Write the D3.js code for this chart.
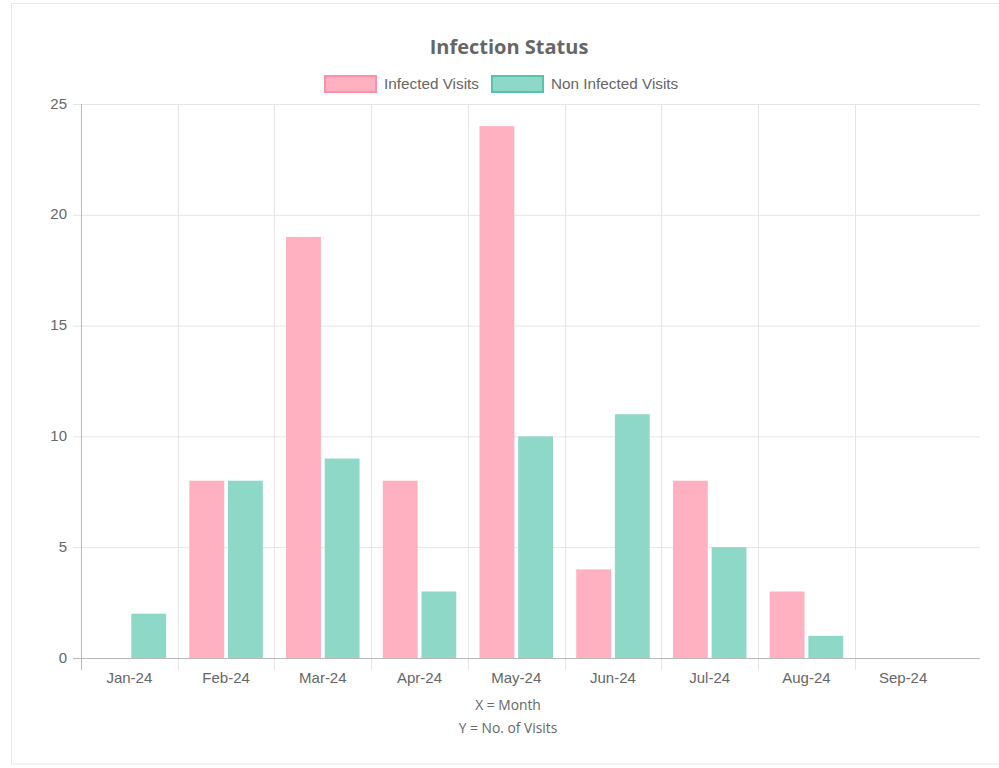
<!DOCTYPE html>
<html>
<head>
<meta charset="utf-8">
<script src="https://cdn.jsdelivr.net/npm/d3@7"></script>
<style>
  body { margin: 0; background: #fff; }
  svg { display: block; }
</style>
</head>
<body>
<svg id="chart"></svg>
<script>
const months = ["Jan-24", "Feb-24", "Mar-24", "Apr-24", "May-24", "Jun-24", "Jul-24", "Aug-24", "Sep-24"];
const infected = [0, 8, 19, 8, 24, 4, 8, 3, 0];
const nonInfected = [2, 8, 9, 3, 10, 11, 5, 1, 0];
const seriesNames = ["Infected Visits", "Non Infected Visits"];
const yTicks = [0, 5, 10, 15, 20, 25];

var width = 999, height = 768;
var plotLeft = 81, plotRight = 980, plotTop = 104, plotBottom = 658;
var bandRight = 951.5;

var fills = ["#ffb1c1", "#8ed8c8"];
var strokes = ["#ff8fa8", "#55c4ad"];

var svg = d3.select("#chart").attr("width", width).attr("height", height);

// outer frame
svg.append("rect")
  .attr("x", 11.5).attr("y", 3.5)
  .attr("width", 1010).attr("height", 760.5)
  .attr("fill", "none").attr("stroke", "#e6e6e6");

var x = d3.scaleBand().domain(months).range([plotLeft, bandRight]);
var y = d3.scaleLinear().domain([0, 25]).range([plotBottom, plotTop]);

// horizontal grid
svg.append("g").selectAll("line").data(yTicks).enter().append("line")
  .attr("x1", plotLeft - 8).attr("x2", plotRight)
  .attr("y1", d => y(d) + 0.5).attr("y2", d => y(d) + 0.5)
  .attr("stroke", "#e5e5e5");

// vertical grid at category edges
svg.append("g").selectAll("line").data(months.slice(1)).enter().append("line")
  .attr("x1", d => Math.round(x(d)) + 0.5).attr("x2", d => Math.round(x(d)) + 0.5)
  .attr("y1", plotTop).attr("y2", plotBottom + 12)
  .attr("stroke", "#e5e5e5");

// bars
var groups = svg.append("g").selectAll("g").data(months).enter().append("g")
  .attr("transform", d => "translate(" + (x(d) + x.bandwidth() * 0.1) + ",0)");

var inner = d3.scaleBand().domain(seriesNames).range([0, x.bandwidth() * 0.8]);
groups.selectAll("rect")
  .data((d, i) => [
    { key: seriesNames[0], value: infected[i] },
    { key: seriesNames[1], value: nonInfected[i] }
  ])
  .enter().append("rect")
  .attr("x", d => inner(d.key) + inner.bandwidth() * 0.05)
  .attr("width", inner.bandwidth() * 0.9)
  .attr("y", d => y(d.value))
  .attr("height", d => y(0) - y(d.value))
  .attr("fill", (d, i) => fills[i]);

// axis lines
svg.append("line")
  .attr("x1", plotLeft + 0.5).attr("x2", plotLeft + 0.5)
  .attr("y1", plotTop).attr("y2", plotBottom + 12)
  .attr("stroke", "#b8b8b8");
svg.append("line")
  .attr("x1", plotLeft - 8).attr("x2", plotRight)
  .attr("y1", plotBottom + 0.5).attr("y2", plotBottom + 0.5)
  .attr("stroke", "#b8b8b8");

// y tick labels
svg.append("g").selectAll("text").data(yTicks).enter().append("text")
  .attr("x", 67).attr("y", d => y(d) - 1)
  .attr("text-anchor", "end").attr("dominant-baseline", "central")
  .style("font-family", "Arial, 'Liberation Sans', sans-serif")
  .style("font-size", "15px").style("fill", "#666")
  .text(d => d);

// x tick labels
svg.append("g").selectAll("text").data(months).enter().append("text")
  .attr("x", d => x(d) + x.bandwidth() / 2).attr("y", 683)
  .attr("text-anchor", "middle")
  .style("font-family", "Arial, 'Liberation Sans', sans-serif")
  .style("font-size", "15px").style("fill", "#666")
  .text(d => d);

// title
svg.append("text")
  .attr("x", 509).attr("y", 54)
  .attr("text-anchor", "middle")
  .style("font-family", "'Open Sans', sans-serif")
  .style("font-size", "20px").style("font-weight", "bold").style("fill", "#666")
  .text("Infection Status");

// legend
var legendItems = [
  { name: seriesNames[0], x: 325, tx: 384 },
  { name: seriesNames[1], x: 492, tx: 551 }
];
var lg = svg.append("g").selectAll("g").data(legendItems).enter().append("g");
lg.append("rect")
  .attr("x", d => d.x).attr("y", 76)
  .attr("width", 51).attr("height", 16)
  .attr("fill", (d, i) => fills[i])
  .attr("stroke", (d, i) => strokes[i]).attr("stroke-width", 2);
lg.append("text")
  .attr("x", d => d.tx).attr("y", 83)
  .attr("dominant-baseline", "central")
  .style("font-family", "Arial, 'Liberation Sans', sans-serif")
  .style("font-size", "15.3px").style("fill", "#666")
  .text(d => d.name);

// axis titles
var axisTitles = ["X = Month", "Y = No. of Visits"];
svg.append("g").selectAll("text").data(axisTitles).enter().append("text")
  .attr("x", 508).attr("y", (d, i) => 710 + i * 23)
  .attr("text-anchor", "middle")
  .style("font-family", "'Open Sans', sans-serif")
  .style("font-size", "13.8px").style("fill", "#666")
  .text(d => d);
</script>
</body>
</html>
